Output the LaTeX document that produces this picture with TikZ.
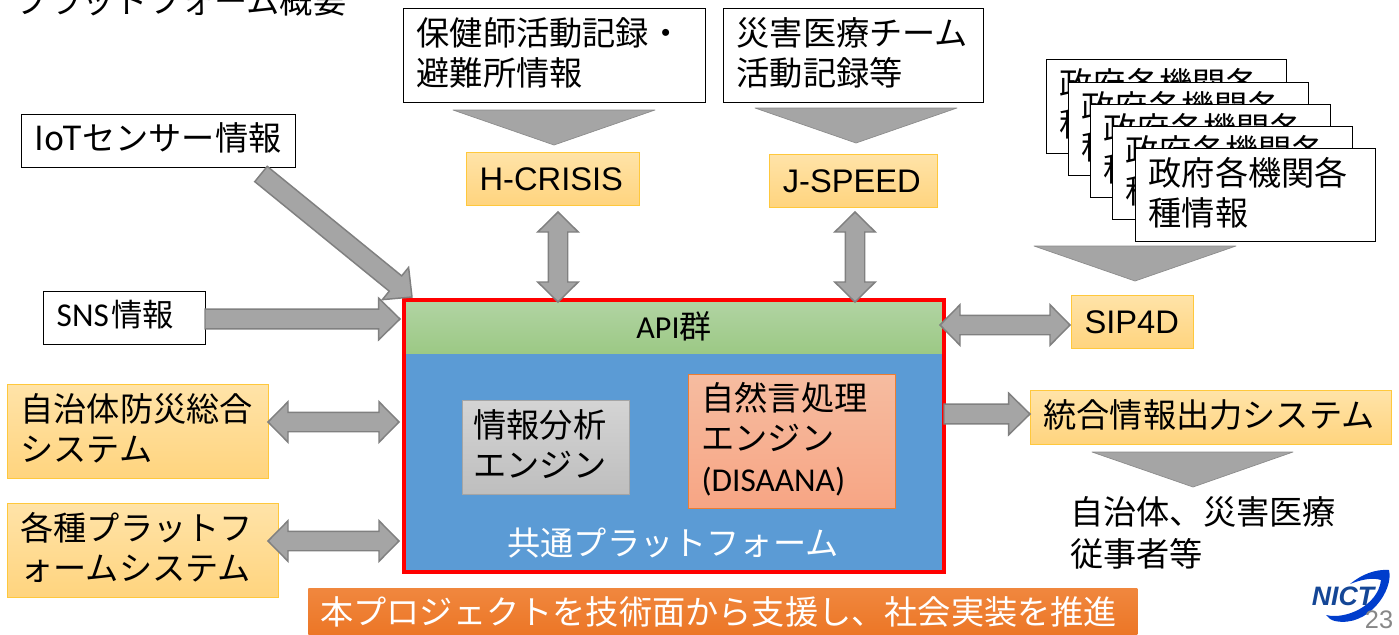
\documentclass[tikz,border=0pt]{standalone}
\usepackage{fontspec}
\setmainfont{Noto Sans CJK JP}
\newfontfamily\arialf{Liberation Sans}
\newfontfamily\calf{Carlito}
\usetikzlibrary{calc}
\newdimen\px \px=0.75pt
\definecolor{arrowfill}{HTML}{A5A5A5}
\definecolor{arrowline}{HTML}{808080}
\definecolor{yline}{HTML}{FFC83C}
\definecolor{ytop}{HTML}{FFE3A8}
\definecolor{ybot}{HTML}{FFD47E}
\newcommand{\bigjp}{\fontsize{24.9pt}{30pt}\selectfont}
\newcommand{\up}[1]{\raisebox{-7.5pt}[0pt][0pt]{\begin{tabular}[c]{@{}l@{}}#1\end{tabular}}}
\newcommand{\upc}[1]{\raisebox{-8.4pt}[0pt][0pt]{#1\hspace*{2.5pt}}}
\tikzset{
  x=0.75pt,y=-0.75pt,
  basebox/.style 2 args={anchor=north west,minimum width=#1*\px,minimum height=#2*\px,
    text width=#1*\px-26*\px,inner xsep=13*\px,inner ysep=0pt,align=left,font=\bigjp,text=black},
  wbox/.style 2 args={basebox={#1}{#2},draw=black,fill=white,line width=1.1pt},
  ybox/.style 2 args={basebox={#1}{#2},draw=yline,line width=0.75pt,top color=ytop,bottom color=ybot},
  ycent/.style={align=center,font={\arialf\fontsize{24.5pt}{30pt}\selectfont}},
  arrowshape/.style={fill=arrowfill,draw=arrowline,line width=1.1pt,line join=miter},
  tri/.style={arrowshape,draw=arrowline!70!arrowfill,line width=0.5pt,line join=round},
  plain/.style={inner sep=0pt,font=\bigjp,align=left,anchor=west},
}
\newcommand{\singleblk}[2]{%
  \coordinate (hb) at ($(#2)!16pt!(#1)$);
  \path[arrowshape] ($(#1)!7.4pt!90:(#2)$) -- ($(hb)!7.4pt!-90:(#1)$) -- ($(hb)!15.6pt!-90:(#1)$)
    -- (#2) -- ($(hb)!15.6pt!90:(#1)$) -- ($(hb)!7.4pt!90:(#1)$) -- ($(#1)!7.4pt!-90:(#2)$) -- cycle;}
\newcommand{\doubleblk}[2]{%
  \coordinate (hb) at ($(#2)!15pt!(#1)$);
  \coordinate (ha) at ($(#1)!15pt!(#2)$);
  \path[arrowshape] (#1) -- ($(ha)!15.2pt!90:(#2)$) -- ($(ha)!7.3pt!90:(#2)$) -- ($(hb)!7.3pt!-90:(#1)$)
    -- ($(hb)!15.2pt!-90:(#1)$) -- (#2) -- ($(hb)!15.2pt!90:(#1)$) -- ($(hb)!7.3pt!90:(#1)$)
    -- ($(ha)!7.3pt!-90:(#2)$) -- ($(ha)!15.2pt!-90:(#2)$) -- cycle;}
\begin{document}
\begin{tikzpicture}
\useasboundingbox (0,0) rectangle (1399,635);
\fill[white] (0,0) rectangle (1399,635);
% title
\node[plain] (title) at (15,1) {プラットフォーム概要};
% top source boxes
\node[wbox={302}{94}] (hoken) at (403,8) {\up{保健師活動記録・\\避難所情報}};
\node[wbox={260}{94}] (saigai) at (723,8) {\up{災害医療チーム\\活動記録等}};
\node[wbox={274}{53}] (iot) at (21,114) {\up{IoTセンサー情報}};
\node[wbox={162}{53}] (sns) at (43,291) {\up{\raisebox{1.5pt}{{\calf\fontsize{25pt}{30pt}\selectfont SNS}\hspace{2pt}{\fontsize{23.5pt}{30pt}\selectfont 情報}}}};
% stacked boxes
\node[wbox={240}{94}] (gov1) at (1046,59) {\up{政府各機関各\\種情報}};
\node[wbox={240}{93}] (gov2) at (1068,82) {\up{政府各機関各\\種情報}};
\node[wbox={240}{93}] (gov3) at (1090,104) {\up{政府各機関各\\種情報}};
\node[wbox={240}{93}] (gov4) at (1112,126) {\up{政府各機関各\\種情報}};
\node[wbox={240}{93}] (gov5) at (1135,148) {\up{政府各機関各\\種情報}};
% systems
\node[ybox={173}{53},ycent] (hc) at (466,152) {\upc{H-CRISIS}};
\node[ybox={168}{53},ycent] (js) at (769,154) {\upc{J-SPEED}};
\node[ybox={122}{53},ycent] (sip) at (1071,295) {\upc{SIP4D}};
\node[ybox={261}{94}] (jichi) at (7,384) {\up{自治体防災総合\\システム}};
\node[ybox={271}{94}] (kaku) at (7,503) {\up{各種プラットフ\\ォームシステム}};
\node[ybox={361}{54}] (togo) at (1030,390) {\up{統合情報出力システム}};
% platform
\node[anchor=north west,fill={rgb,255:red,91;green,155;blue,213},inner sep=0pt,outer sep=0pt,minimum width=540*\px,minimum height=272*\px] (plat) at (404,300) {};
\node[anchor=north west,top color={rgb,255:red,178;green,212;blue,164},bottom color={rgb,255:red,156;green,201;blue,133},minimum width=540*\px,minimum height=54*\px,inner sep=0pt,outer sep=0pt,font=\fontsize{24pt}{28pt}\selectfont,text=black] (api) at (404,299) {{\calf API}群};
\draw[red,line width=3pt] (plat.north west) rectangle (plat.south east);
\node[basebox={167}{94},inner xsep=11*\px,text width=145*\px,draw={rgb,255:red,165;green,165;blue,165},line width=0.75pt,top color={rgb,255:red,212;green,212;blue,212},bottom color={rgb,255:red,190;green,190;blue,190}] (joho) at (462,400) {\up{情報分析\\エンジン}};
\node[basebox={207}{134},draw={rgb,255:red,237;green,125;blue,49},line width=0.75pt,top color={rgb,255:red,246;green,188;blue,160},bottom color={rgb,255:red,247;green,165;blue,132},inner xsep=13*\px,text width=181*\px] (nlp) at (688,374) {\up{自然言処理\\エンジン\\[1pt]{\calf\fontsize{25pt}{30pt}\selectfont (DISAANA)}}};
\node[inner sep=0pt,font=\bigjp,text=white] (kyotsu) at (673,543) {共通プラットフォーム};
% triangles
\path[tri] (453,110) -- (655,110) -- (554,145) -- cycle;
\path[tri] (755,108) -- (957,108) -- (856,143) -- cycle;
\path[tri] (1034,246) -- (1236,246) -- (1135,281) -- cycle;
\path[tri] (1092,452) -- (1293,452) -- (1193,487) -- cycle;
% connector ends
\coordinate (a1) at (261,174); \coordinate (a2) at (412,297);
\coordinate (b1) at (205,319); \coordinate (b2) at (400,319);
\coordinate (c1) at (268,422); \coordinate (c2) at (399,422);
\coordinate (d1) at (268,541); \coordinate (d2) at (399,541);
\coordinate (e1) at (558,212); \coordinate (e2) at (558,302);
\coordinate (f1) at (855,212); \coordinate (f2) at (855,302);
\coordinate (g1) at (940,325); \coordinate (g2) at (1070,325);
\coordinate (h1) at (944,414); \coordinate (h2) at (1030,414);
\singleblk{a1}{a2}
\singleblk{b1}{b2}
\doubleblk{c1}{c2}
\doubleblk{d1}{d2}
\doubleblk{e1}{e2}
\doubleblk{f1}{f2}
\doubleblk{g1}{g2}
\singleblk{h1}{h2}
% receiver text
\node[plain,anchor=north west,font=\fontsize{24.9pt}{31.5pt}\selectfont] (jusha) at (1070,496) {自治体、災害医療\\従事者等};
% banner
\node[anchor=north west,minimum width=829*\px,minimum height=47*\px,inner sep=0pt,top color={rgb,255:red,240;green,135;blue,62},bottom color={rgb,255:red,236;green,118;blue,38},font=\bigjp,text=white] (banner) at (308,588) {本プロジェクトを技術面から支援し、社会実装を推進\hspace*{6pt}};
% logo
\fill[blue!70!cyan!80!black] (1350,584) .. controls (1362,574) and (1376,569) .. (1389,570) .. controls (1394,590) and (1368,628) .. (1335,621) .. controls (1331,620) and (1328,618) .. (1326,615) .. controls (1345,620) and (1378,606) .. (1381,580) .. controls (1372,577) and (1360,580) .. (1350,584) -- cycle;
\node[inner sep=0pt,text={rgb,255:red,20;green,70;blue,150},font={\arialf\bfseries\itshape\fontsize{20pt}{22pt}\selectfont}] (nict) at (1343,596) {NICT};
\node[inner sep=0pt,text={rgb,255:red,135;green,135;blue,135},font={\arialf\fontsize{19pt}{22pt}\selectfont}] (pageno) at (1379,620) {23};
\end{tikzpicture}
\end{document}
